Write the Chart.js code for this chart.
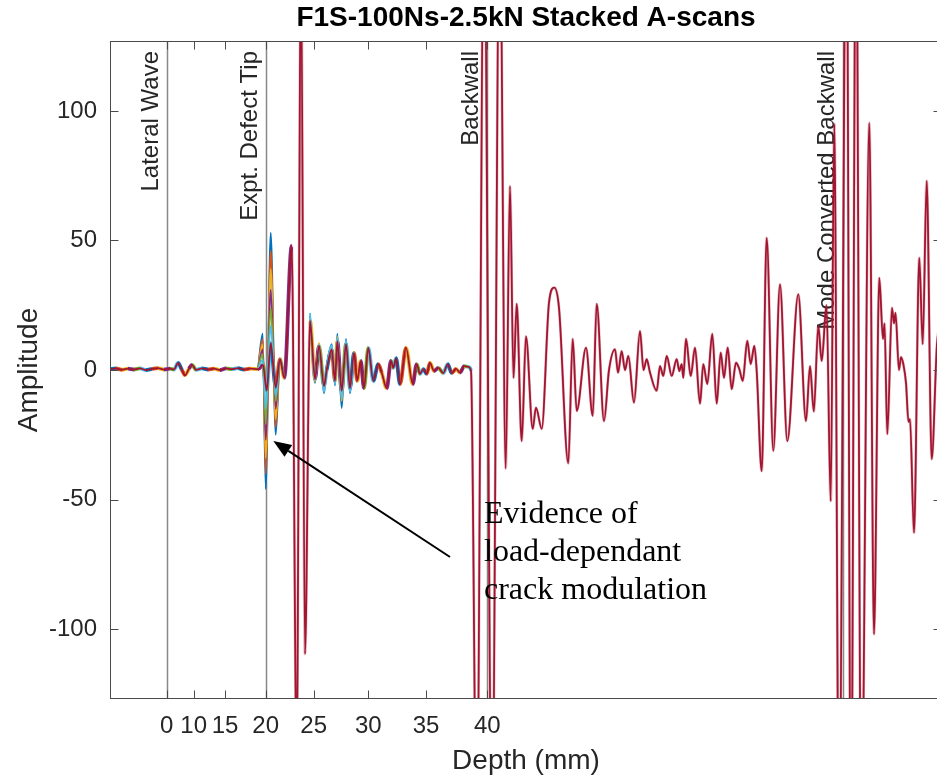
<!DOCTYPE html>
<html><head><meta charset="utf-8">
<script src="https://cdn.jsdelivr.net/npm/chart.js@4"></script>
<style>html,body{margin:0;padding:0;overflow:hidden;background:#fff}</style>
</head><body>
<canvas id="c" width="945" height="782"></canvas>
<script>
// ---------- data (x = time sample index, y = amplitude) ----------
const chartTitle = 'F1S-100Ns-2.5kN Stacked A-scans';
const depthTicks = ['0', '10', '15', '20', '25', '30', '35', '40'];
const tickSamples = [56.7, 83.7, 115, 155.7, 203.7, 258.3, 316, 377.3];
const ampTicks = [-100, -50, 0, 50, 100];
const markerLabels = ['Lateral Wave', 'Expt. Defect Tip', 'Backwall', 'Mode Converted Backwall'];
const markerSamples = [56.7, 155.7, 377.3, 733.3];

// final (top-most) A-scan
const mainScan = [[0,0.3],[6,0.6],[12,0.1],[18,0.5],[24,0.2],[30,0.6],[36,0],[42,0.4],[48,0.7],[54,0.2],[60,0.5],[64,0.2],[68,2.7],[72,0],[75,-2],[79,0.5],[82,2],[86,0.1],[92,0.6],[98,0.2],[104,0.5],[110,0],[116,0.6],[122,0.3],[128,0.7],[134,0.2],[140,0.5],[148,0.3],
[153,2],[156.7,-8],[160.7,10.4],[165.7,-6.8],[170,4.2],[174.3,-3],[181.7,48],[186.7,-150],[191,160],[195,-109.6],
[200,19],[205,-3.5],[209,9.3],[214,-6.2],[216.7,0],[221.7,8],[225,-4.2],[227.3,11],[231.7,-8],[236,10],[240,-7],[244,6.6],[247.3,-4.2],[250.7,3.5],[254,-7],[258.3,8.5],[263.3,-4.2],[268.3,2.3],[271.7,-1],[276.7,-7],[281,3.5],[283.3,0.8],[286,4.6],[290,-5.4],[296,8.5],[302.7,-5.4],[306.7,2.3],[310,-1.5],[313.3,0.4],[316.7,-1.5],[320,2.7],[324,-0.4],[328.3,0.8],[333.3,-1.2],[337.7,2.3],[341.7,-1.2],[346,0.4],[350,-1],[354.3,1.5],[358.3,1.2],[361,-0.3],
[366.7,-180],[374,180],[382,-180],[389.7,180],[395.7,-38],[400,71],[403.5,-3],[406.7,25.5],[411.7,-27.4],[416,13],[422.7,-22.7],[426,-14.5],[431.7,-22.7],[439,26],[444.3,31.8],[449,24],[458.3,-36],[462.7,12],[466.7,-15.8],[476,8.6],[482.7,-17.7],[486.7,25.5],[494,-19.7],[499,0],[505,8],[508,-1],[511.7,7.3],[515,0],[518.3,5.4],[524,-12.6],[530,15],[533.5,0],[536.7,4.2],[540,-1],
[546.7,-8],[550,1.5],[553.3,-2.3],[556.7,5.4],[561.7,-2.3],[566.7,4.2],[569.3,-0.4],[571.7,2.3],[573.3,-3],[576,12],[580.7,-2.3],[585,8.6],[590,-13],[593.3,2.3],[597.3,-5.4],[602.3,13.9],[606.7,-13],[610.7,6.7],[614,-3],[617.7,8.6],[621.7,-7.4],[626,2.8],[629.3,0.4],[632.7,-4.2],[637.3,11.2],[640.7,2.3],[644.3,9.3],[646.7,-0.4],
[651.7,-39],[656.7,51],[663.3,-31.2],[670,33],[677.3,-27.4],[688.3,29.2],[696,-19.7],[700,1.5],[703.8,-16],[708.3,17],[711.7,3.5],[716.5,25],[720.7,-50.6],[724.3,95],[729,-180],[736.5,190],[741,-190],[746,190],[751.3,-180],[759.3,95.4],[764,-102],[769.3,35.6],[773,12],[774.5,18],[777.3,-24.7],[782,24],[784,18],[785.5,22],[789,0],[791,5],[793.3,2.3],[796,-5],[798.5,-20],[800,-19],[804,-62.8],[809.3,43.3],[812.7,10],[816.7,73],[821.7,-34.4],[827,10],[832,20]];

// earlier loads: where they differ visibly from the final scan
const defectSamples = [148, 152.7, 155.7, 160.7, 165.7, 170, 174.3];
const scanBlue   = [0.5, 14, -46, 53, -25, 4, -3];
const scanOrange = [0.3, 12, -40, 46, -22, 4.5, -3];
const scanYellow = [0.6, 10, -34, 39, -19, 4, -3];
const scanPurple = [0.2, 8, -27, 31, -15, 4.2, -3];
const scanGreen  = [0.5, 6, -21, 24, -12, 4, -3];
const scanCyan   = [0.4, 4, -15, 17, -10, 4.3, -3];
const echoSamples = [200, 205, 209, 214, 216.7, 221.7, 225, 227.3, 231.7, 236, 240, 244];
const echoBlue   = [21, -5, 10, -9, 1, 10, -6, 14, -14.7, 12, -9, 7];
const echoYellow = [20, -4.5, 10.5, -8, 0.5, 9, -5, 13, -12, 11, -8, 7.2];
const echoCyan   = [22, -4, 9.8, -8.5, 0.8, 9.5, -5.5, 12.5, -11, 11.5, -8.5, 6.8];

// annotation (data coordinates)
const arrowTail = [340, -72.2];
const arrowTip = [163.3, -27.4];
const noteAnchor = [374, -59.1];
const noteLines = ['Evidence of', 'load-dependant', 'crack modulation'];

// ---------- styling ----------
const SANS = '"Liberation Sans", Arial, Helvetica, sans-serif';
const SERIF = '"Liberation Serif", "Times New Roman", serif';
const C = { blue:'#0072BD', orange:'#D95319', yellow:'#EDB120', purple:'#7E2F8E', green:'#77AC30', cyan:'#4DBEEE', red:'#A2142F' };
const cycle = [C.blue, C.orange, C.yellow, C.purple, C.green, C.cyan];

const toPts = (xs, ys) => xs.map((v, i) => ({ x: v, y: ys[i] }));
const withEcho = (a, b) => toPts(defectSamples, a).concat([{ x: 187, y: null }], b ? toPts(echoSamples, b) : []);
const mainPts = mainScan.map(p => ({ x: p[0], y: p[1] }));

const lineDs = (data, color, width, order) => ({
  data, borderColor: color, borderWidth: width, pointRadius: 0, fill: false,
  cubicInterpolationMode: 'monotone', spanGaps: false, order
});

// the spread of all stacked scans around the final one (visible as a coloured fringe)
const fringe = c => c.p0.parsed.x < 361 && Math.abs(c.p0.parsed.y) < 60 && Math.abs(c.p1.parsed.y) < 60;

const datasets = [
  lineDs(mainPts, C.red, 1.8, 0),
  lineDs(withEcho(scanCyan, echoCyan), C.cyan, 1.8, 1),
  lineDs(withEcho(scanGreen), C.green, 1.8, 2),
  lineDs(withEcho(scanPurple), C.purple, 1.8, 3),
  lineDs(withEcho(scanYellow, echoYellow), C.yellow, 1.8, 4),
  lineDs(withEcho(scanOrange), C.orange, 1.8, 5),
  lineDs(withEcho(scanBlue, echoBlue), C.blue, 1.8, 6),
  Object.assign(lineDs(mainPts, C.blue, 3.4, 7), { segment: {
    borderColor: c => fringe(c) ? cycle[c.p0DataIndex % cycle.length] : 'rgba(162,20,47,0.3)',
    borderWidth: c => fringe(c) ? 3.8 : 2.8 } })
];

const decor = {
  id: 'decor',
  beforeDatasetsDraw(chart) {
    const { ctx, chartArea: a, scales: { x } } = chart;
    ctx.save();
    ctx.beginPath(); ctx.rect(a.left, a.top, a.width, a.height); ctx.clip();
    markerSamples.forEach((s, i) => {
      const px = Math.round(x.getPixelForValue(s)) + 0.5;
      ctx.strokeStyle = 'rgba(38,38,38,0.55)'; ctx.lineWidth = 1.5;
      ctx.beginPath(); ctx.moveTo(px, a.top); ctx.lineTo(px, a.bottom); ctx.stroke();
      ctx.save();
      ctx.translate(px - 4, a.top + 10);
      ctx.rotate(-Math.PI / 2);
      ctx.font = '24px ' + SANS;
      ctx.fillStyle = '#262626';
      ctx.textAlign = 'right'; ctx.textBaseline = 'bottom';
      ctx.fillText(markerLabels[i], 0, 0);
      ctx.restore();
    });
    ctx.restore();
  },
  afterDatasetsDraw(chart) {
    const { ctx, chartArea: a, scales: { x, y } } = chart;
    ctx.save();
    // title, centred over the axes
    ctx.font = 'bold 28px ' + SANS;
    ctx.fillStyle = '#000';
    ctx.textAlign = 'center'; ctx.textBaseline = 'middle';
    ctx.fillText(chartTitle, (a.left + a.right) / 2, 18.5);
    // axes box
    ctx.strokeStyle = '#4a4a4a'; ctx.lineWidth = 1;
    ctx.strokeRect(a.left + 0.5, a.top + 0.5, a.width - 1, a.height - 1);
    // inward ticks
    const TL = 8.5;
    ctx.beginPath();
    tickSamples.forEach(s => {
      const px = Math.round(x.getPixelForValue(s)) + 0.5;
      ctx.moveTo(px, a.bottom); ctx.lineTo(px, a.bottom - TL);
      ctx.moveTo(px, a.top); ctx.lineTo(px, a.top + TL);
    });
    ampTicks.forEach(v => {
      const py = Math.round(y.getPixelForValue(v)) + 0.5;
      ctx.moveTo(a.left, py); ctx.lineTo(a.left + TL, py);
      ctx.moveTo(a.right, py); ctx.lineTo(a.right - TL, py);
    });
    ctx.stroke();
    // arrow
    const tx = x.getPixelForValue(arrowTail[0]), ty = y.getPixelForValue(arrowTail[1]);
    const hx = x.getPixelForValue(arrowTip[0]), hy = y.getPixelForValue(arrowTip[1]);
    const ang = Math.atan2(hy - ty, hx - tx);
    const hl = 18, hw = 7;
    const bx = hx - hl * Math.cos(ang), by = hy - hl * Math.sin(ang);
    ctx.strokeStyle = '#000'; ctx.fillStyle = '#000'; ctx.lineWidth = 2;
    ctx.beginPath(); ctx.moveTo(tx, ty); ctx.lineTo(bx, by); ctx.stroke();
    ctx.beginPath();
    ctx.moveTo(hx, hy);
    ctx.lineTo(bx + hw * Math.sin(ang), by - hw * Math.cos(ang));
    ctx.lineTo(bx - hw * Math.sin(ang), by + hw * Math.cos(ang));
    ctx.closePath(); ctx.fill();
    // note text
    ctx.font = '32px ' + SERIF;
    ctx.textAlign = 'left'; ctx.textBaseline = 'alphabetic';
    const nx = x.getPixelForValue(noteAnchor[0]), ny = y.getPixelForValue(noteAnchor[1]);
    noteLines.forEach((t, i) => ctx.fillText(t, nx, ny + i * 38));
    ctx.restore();
  }
};

new Chart(document.getElementById('c'), {
  type: 'line',
  data: { datasets },
  options: {
    responsive: false, animation: false, events: [],
    layout: { padding: { left: 0, right: 3, top: 41, bottom: 0 } },
    plugins: { legend: { display: false }, tooltip: { enabled: false }, title: { display: false } },
    scales: {
      x: { type: 'linear', min: 0, max: 832,
        afterBuildTicks: s => { s.ticks = tickSamples.map(v => ({ value: v })); },
        afterFit: s => { s.height = 83; },
        ticks: { autoSkip: false, maxRotation: 0, minRotation: 0, padding: 13.3, color: '#262626',
          font: { family: SANS, size: 24 }, callback: (v, i) => depthTicks[i] },
        grid: { display: false, drawTicks: false }, border: { display: false },
        title: { display: true, text: 'Depth (mm)', color: '#262626',
          font: { family: SANS, size: 28, lineHeight: 1.2 }, padding: { top: 0, bottom: 4.2 } }
      },
      y: { type: 'linear', min: -127, max: 127,
        afterBuildTicks: s => { s.ticks = ampTicks.map(v => ({ value: v })); },
        afterFit: s => { s.width = 110; },
        ticks: { padding: 13, color: '#262626', font: { family: SANS, size: 24 } },
        grid: { display: false, drawTicks: false }, border: { display: false },
        title: { display: true, text: 'Amplitude', color: '#262626',
          font: { family: SANS, size: 28, lineHeight: 1.2 }, padding: { top: 12.5, bottom: 0 } }
      }
    }
  },
  plugins: [decor]
});
</script>
</body></html>
